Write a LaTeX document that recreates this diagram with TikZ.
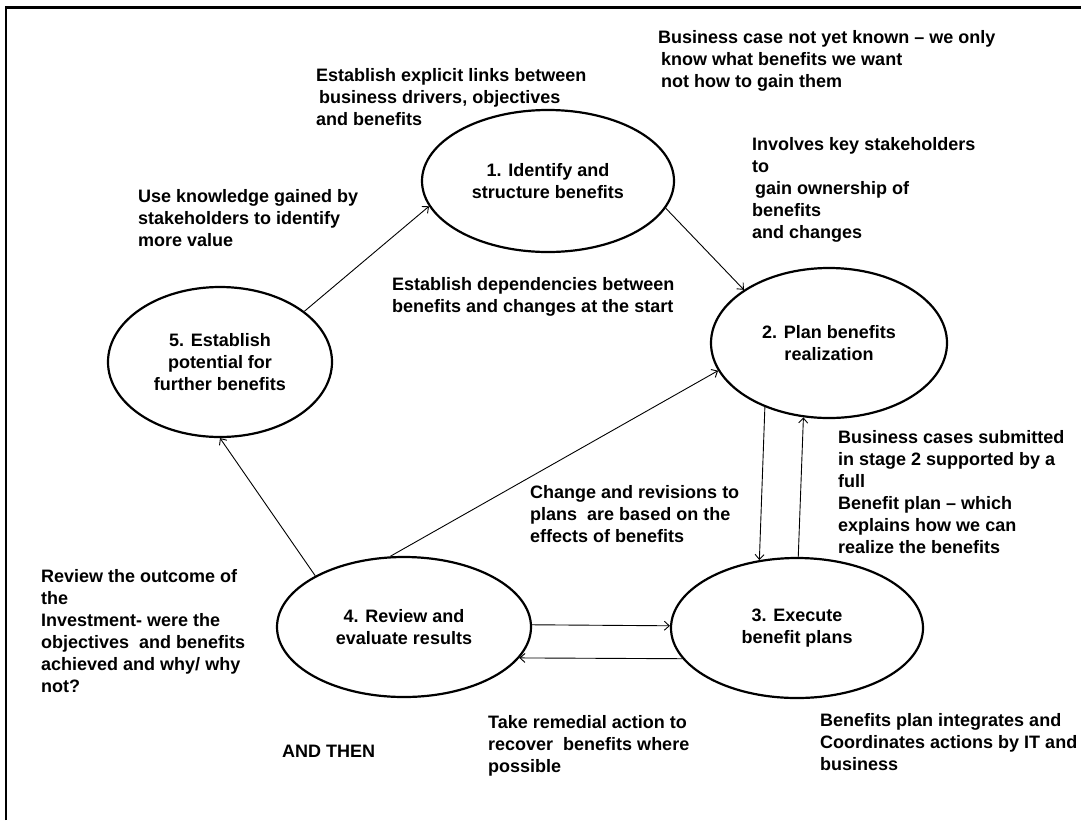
\documentclass[tikz,border=0pt]{standalone}
\usepackage{fontspec}
\setmainfont{Liberation Sans}
\usetikzlibrary{shapes.geometric,arrows.meta}
\begin{document}
\begin{tikzpicture}[x=1pt,y=-1pt,
  stage/.style={ellipse,draw,line width=2.2pt,inner sep=0pt,align=center,font=\fontsize{18}{22}\selectfont\bfseries},
  note/.style={anchor=north west,inner sep=0pt,align=left,font=\fontsize{18}{22}\selectfont\bfseries},
  link/.style={line width=0.9pt,-{Straight Barb[length=5pt,width=9pt]}}]
\useasboundingbox (0,0) rectangle (1081,820);
\draw[line width=2.5pt] (6,820) -- (6,7.5) -- (1081,7.5);

\node[stage,minimum width=252pt,minimum height=142pt] (e1) at (548,181) {1. Identify and\\structure benefits};
\node[stage,minimum width=236pt,minimum height=150pt] (e2) at (829,343) {2. Plan benefits\\realization};
\node[stage,minimum width=252pt,minimum height=140pt] (e3) at (797,628) {3. Execute\\benefit plans};
\node[stage,minimum width=254pt,minimum height=140pt] (e4) at (404,627) {4. Review and\\evaluate results};
\node[stage,minimum width=224pt,minimum height=150pt] (e5) at (220,362) {5. Establish\\potential for\\further benefits};

\node[note] (n1) at (658,27.6) {\strut Business case not yet known – we only\\\hspace{3pt}know what benefits we want\\\hspace{3pt}not how to gain them};
\node[note] (n2) at (316,65.6) {\strut Establish explicit links between\\\hspace{3pt}business drivers, objectives\\and benefits};
\node[note] (n3) at (138,186.6) {\strut Use knowledge gained by\\stakeholders to identify\\more value};
\node[note] (n4) at (752,134.6) {\strut Involves key stakeholders\\to\\\hspace{3pt}gain ownership of\\benefits\\and changes};
\node[note] (n5) at (392,274.6) {\strut Establish dependencies between\\benefits and changes at the start};
\node[note] (n6) at (530,482.6) {\strut Change and revisions to\\plans\ \ are based on the\\effects of benefits};
\node[note] (n7) at (838,427.6) {\strut Business cases submitted\\in stage 2 supported by a\\full\\Benefit plan – which\\explains how we can\\realize the benefits};
\node[note] (n8) at (41,566.6) {\strut Review the outcome of\\the\\Investment- were the\\objectives\ \ and benefits\\achieved and why/ why\\not?};
\node[note] (n9) at (282,741.6) {\strut AND THEN};
\node[note] (n10) at (488,712.6) {\strut Take remedial action to\\recover\ \ benefits where\\possible};
\node[note] (n11) at (820,710.6) {\strut Benefits plan integrates and\\Coordinates actions by IT and\\business};

\draw[link] (e5.31) -- (e1.192);
\draw[link] (e1.347) -- (e2.148);
\draw[link] (e4.101) -- (e2.194);
\draw[link] (e4.150) -- (e5.270);
\draw[link] (e2.225) -- (e3.119);
\draw[link] (e3.89) -- (e2.251);
\draw[link] (e4.1) -- (e3.179);
\draw[link] (e3.195) -- (e4.345);
\end{tikzpicture}
\end{document}
